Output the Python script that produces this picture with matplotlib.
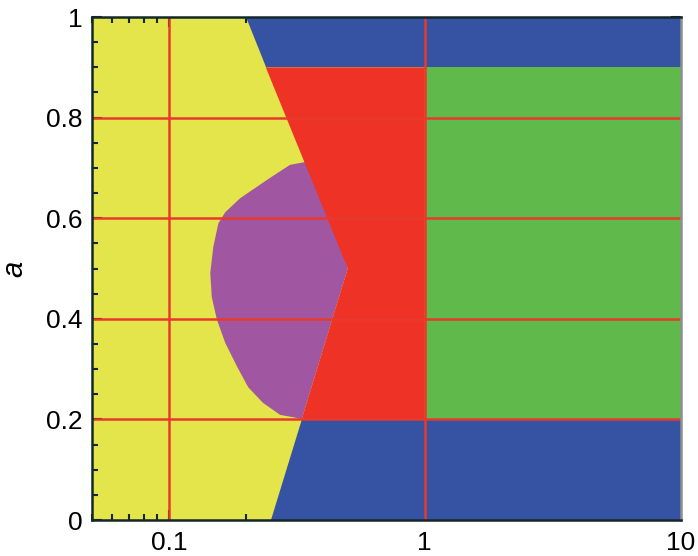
import matplotlib
matplotlib.use("Agg")
import matplotlib.pyplot as plt
from matplotlib.patches import Polygon, Rectangle
from matplotlib.ticker import MultipleLocator, FixedLocator, FixedFormatter, LogLocator, NullFormatter

# ─────────────────────────────────────────────
#  Data
# ─────────────────────────────────────────────

X_MIN, X_MAX = 0.05, 10.0
A_LOW, A_HIGH = 0.2, 0.9
X_SPLIT = 1.0

# yellow / other boundary (x at given a)
bnd_a = [1.0, 0.9, 0.5, 0.2, 0.0]
bnd_x = [0.2, 0.239, 0.5, 0.33, 0.25]

# purple blob outline
purple_x = [0.36, 0.297, 0.248, 0.190, 0.166, 0.156, 0.149, 0.145, 0.147,
            0.154, 0.166, 0.185, 0.204, 0.233, 0.272, 0.316, 0.33, 0.5]
purple_a = [0.714, 0.706, 0.680, 0.640, 0.612, 0.590, 0.543, 0.491, 0.443,
            0.398, 0.352, 0.304, 0.264, 0.233, 0.209, 0.203, 0.2, 0.5]

grid_x = [0.1, 1.0]
grid_a = [0.2, 0.4, 0.6, 0.8]

x_ticks = [0.1, 1, 10]
x_ticklabels = ["0.1", "1", "10"]
y_ticks = [0, 0.2, 0.4, 0.6, 0.8, 1.0]
y_ticklabels = ["0", "0.2", "0.4", "0.6", "0.8", "1"]

YELLOW = "#e4e44b"
BLUE = "#3652a3"
RED = "#ee3226"
GREEN = "#5fb94b"
PURPLE = "#a156a1"
GRID_RED = "#e83a2c"

# ─────────────────────────────────────────────
#  Plot
# ─────────────────────────────────────────────

plt.rcParams["font.family"] = ["Liberation Sans", "DejaVu Sans"]

fig = plt.figure(figsize=(6.98, 5.56), dpi=100)
ax = fig.add_axes([0.1318, 0.0647, 0.975 - 0.1318, 0.9694 - 0.0647])
ax.set_xscale("log")
ax.set_xlim(X_MIN, X_MAX)
ax.set_ylim(0, 1)
ax.set_facecolor(YELLOW)

# purple first, the red wedge covers its right part
ax.add_patch(Polygon(list(zip(purple_x, purple_a)), closed=True,
                     facecolor=PURPLE, edgecolor="none", zorder=1))

top_blue = [(bnd_x[0], bnd_a[0]), (X_MAX, 1.0), (X_MAX, A_HIGH), (bnd_x[1], bnd_a[1])]
red = [(bnd_x[1], bnd_a[1]), (X_SPLIT, A_HIGH), (X_SPLIT, A_LOW),
       (bnd_x[3], bnd_a[3]), (bnd_x[2], bnd_a[2])]
bottom_blue = [(bnd_x[3], bnd_a[3]), (X_MAX, A_LOW), (X_MAX, 0.0), (bnd_x[4], bnd_a[4])]

for pts, col in [(top_blue, BLUE), (red, RED), (bottom_blue, BLUE)]:
    ax.add_patch(Polygon(pts, closed=True, facecolor=col, edgecolor="none", zorder=2))
ax.add_patch(Rectangle((X_SPLIT, A_LOW), X_MAX - X_SPLIT, A_HIGH - A_LOW,
                       facecolor=GREEN, edgecolor="none", zorder=2))

for gx in grid_x:
    ax.axvline(gx, color=GRID_RED, lw=1.8, zorder=3)
for ga in grid_a:
    ax.axhline(ga, color=GRID_RED, lw=1.8, zorder=3)

# ticks
ax.xaxis.set_major_locator(FixedLocator(x_ticks))
ax.xaxis.set_major_formatter(FixedFormatter(x_ticklabels))
ax.xaxis.set_minor_locator(LogLocator(base=10, subs=range(2, 10)))
ax.xaxis.set_minor_formatter(NullFormatter())
ax.yaxis.set_major_locator(FixedLocator(y_ticks))
ax.yaxis.set_major_formatter(FixedFormatter(y_ticklabels))
ax.yaxis.set_minor_locator(MultipleLocator(0.05))

ax.tick_params(which="both", direction="in", top=True, right=True,
               color="#14282a", labelsize=19, zorder=4)
ax.tick_params(which="major", length=7, width=1.5)
ax.tick_params(which="minor", length=4.5, width=1.5)
ax.tick_params(axis="y", which="major", pad=7)
ax.tick_params(axis="x", which="major", pad=8)

for side in ["left", "bottom", "top"]:
    ax.spines[side].set_color("#14282a")
    ax.spines[side].set_linewidth(1.8)
ax.spines["right"].set_color("#8a9090")
ax.spines["right"].set_linewidth(1.8)
for s in ax.spines.values():
    s.set_zorder(5)

ax.set_ylabel("a", fontsize=21, fontstyle="italic")
ax.yaxis.set_label_coords(-0.108, 0.5)

fig.savefig("out.png", dpi=100)
